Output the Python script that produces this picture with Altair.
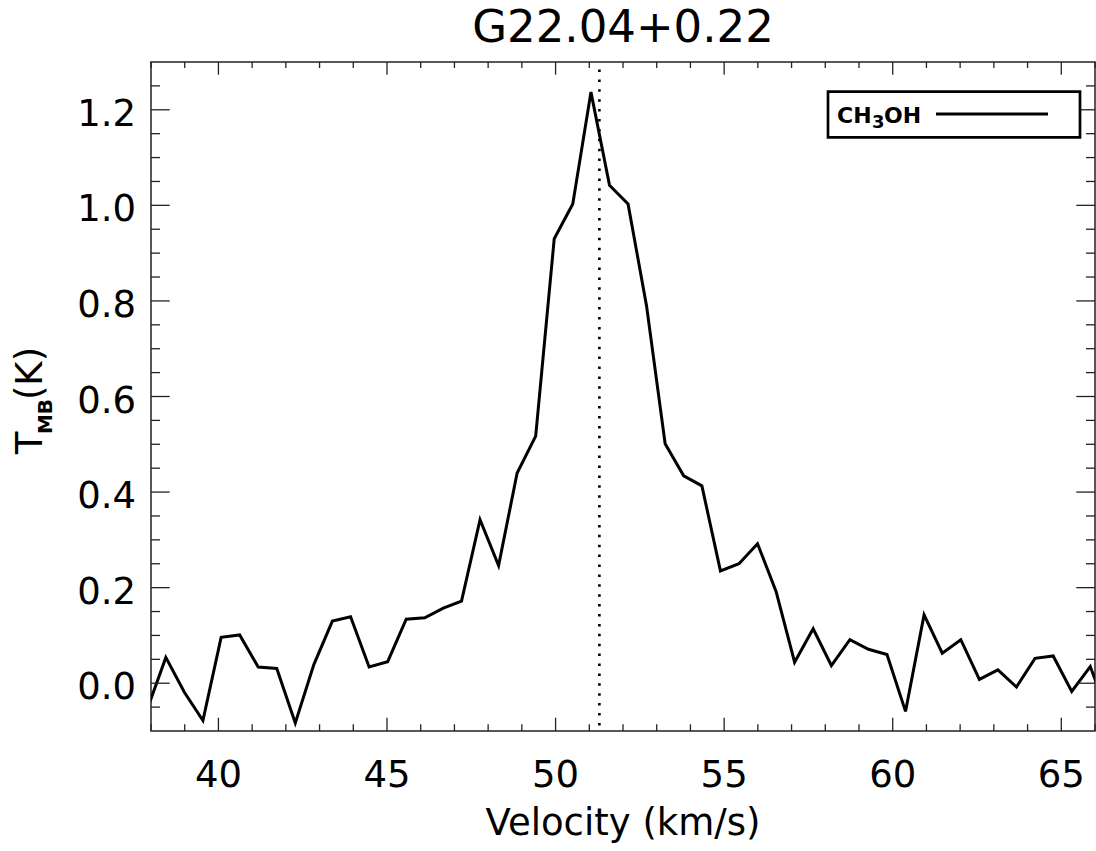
import altair as alt
import pandas as pd

# ---- data ----
velocity = [37.89, 38.44, 38.99, 39.54, 40.08, 40.63, 41.18, 41.73, 42.28, 42.83,
            43.38, 43.92, 44.47, 45.02, 45.57, 46.12, 46.67, 47.21, 47.76, 48.31,
            48.86, 49.41, 49.96, 50.51, 51.05, 51.60, 52.15, 52.70, 53.25, 53.80,
            54.34, 54.89, 55.44, 55.99, 56.54, 57.09, 57.64, 58.18, 58.73, 59.28,
            59.83, 60.38, 60.93, 61.47, 62.02, 62.57, 63.12, 63.67, 64.22, 64.76,
            65.31, 65.86, 66.41]
tmb = [-0.054, 0.054, -0.019, -0.078, 0.096, 0.101, 0.034, 0.031, -0.083, 0.039,
       0.130, 0.139, 0.034, 0.045, 0.134, 0.137, 0.157, 0.172, 0.342, 0.246,
       0.440, 0.517, 0.930, 1.003, 1.237, 1.042, 1.003, 0.789, 0.501, 0.434,
       0.413, 0.235, 0.250, 0.292, 0.192, 0.044, 0.114, 0.037, 0.091, 0.071,
       0.060, -0.059, 0.143, 0.063, 0.091, 0.008, 0.028, -0.008, 0.052, 0.057,
       -0.017, 0.035, -0.070]
v_ref = [51.3]

x_major = [40, 45, 50, 55, 60, 65]
x_major_labels = ["40", "45", "50", "55", "60", "65"]
x_minor = [38, 39, 41, 42, 43, 44, 46, 47, 48, 49, 51, 52, 53, 54,
           56, 57, 58, 59, 61, 62, 63, 64, 66]
y_major = [0.0, 0.2, 0.4, 0.6, 0.8, 1.0, 1.2]
y_major_labels = ["0.0", "0.2", "0.4", "0.6", "0.8", "1.0", "1.2"]
y_minor = [-0.05, 0.05, 0.1, 0.15, 0.25, 0.3, 0.35, 0.45, 0.5, 0.55, 0.65,
           0.7, 0.75, 0.85, 0.9, 0.95, 1.05, 1.1, 1.15, 1.25]

title_text = "G22.04+0.22"
x_title = "Velocity (km/s)"

# ---- layout ----
W, H = 944, 669
FONT = "DejaVu Sans"
FRAME = "#222222"

xscale = alt.Scale(domain=[38, 66], nice=False, zero=False)
yscale = alt.Scale(domain=[-0.1, 1.3], nice=False, zero=False)

df = pd.DataFrame({"v": velocity, "t": tmb})

line = alt.Chart(df).mark_line(color="black", strokeWidth=3, clip=True).encode(
    x=alt.X("v:Q", scale=xscale, axis=None),
    y=alt.Y("t:Q", scale=yscale, axis=None),
)

vline = alt.Chart(pd.DataFrame({"v": v_ref})).mark_rule(
    color="black", strokeWidth=2.6, strokeDash=[2.5, 7.4], strokeDashOffset=2.4,
    strokeCap="butt"
).encode(x=alt.X("v:Q", scale=xscale, axis=None), y=alt.value(0), y2=alt.value(H))


def xticks(vals, side, length):
    d = pd.DataFrame({"v": vals})
    base = alt.Chart(d).mark_rule(color=FRAME, strokeWidth=1.3)
    if side == "bottom":
        return base.encode(x=alt.X("v:Q", scale=xscale, axis=None),
                           y=alt.value(H), y2=alt.value(H - length))
    return base.encode(x=alt.X("v:Q", scale=xscale, axis=None),
                       y=alt.value(0), y2=alt.value(length))


def yticks(vals, side, length):
    d = pd.DataFrame({"t": vals})
    base = alt.Chart(d).mark_rule(color=FRAME, strokeWidth=1.3)
    if side == "left":
        return base.encode(y=alt.Y("t:Q", scale=yscale, axis=None),
                           x=alt.value(0), x2=alt.value(length))
    return base.encode(y=alt.Y("t:Q", scale=yscale, axis=None),
                       x=alt.value(W), x2=alt.value(W - length))


tick_layers = [
    xticks(x_major, "bottom", 13.3), xticks(x_minor, "bottom", 6.7),
    xticks(x_major, "top", 12.7), xticks(x_minor, "top", 6),
    yticks(y_major, "left", 18.7), yticks(y_minor, "left", 9),
    yticks(y_major, "right", 18.7), yticks(y_minor, "right", 9),
]

# tick labels, placed through the scales
xlab = alt.Chart(pd.DataFrame({"v": x_major, "lab": x_major_labels})).mark_text(
    font=FONT, fontSize=37, color="black", align="center", baseline="alphabetic"
).encode(x=alt.X("v:Q", scale=xscale, axis=None), y=alt.value(H + 55.5),
         text="lab:N")
ylab = alt.Chart(pd.DataFrame({"t": y_major, "lab": y_major_labels})).mark_text(
    font=FONT, fontSize=37, color="black", align="right", baseline="alphabetic",
    dy=16
).encode(y=alt.Y("t:Q", scale=yscale, axis=None), x=alt.value(-15),
         text="lab:N")

one = pd.DataFrame({"a": [0]})


def txt(s, x, y, size, angle=0, align="center", weight="normal"):
    return alt.Chart(one).mark_text(
        font=FONT, fontSize=size, fontWeight=weight, color="black",
        angle=angle, align=align, baseline="alphabetic"
    ).encode(x=alt.value(x), y=alt.value(y), text=alt.value(s))


# chart title
title = [txt(title_text, W / 2, -20, 45)]

# y-axis title T_MB(K), rotated
ytitle = [
    txt("T", -109, 381, 37, angle=270),
    txt("MB", -99, 354.5, 20, angle=270, weight="bold"),
    txt("(K)", -109, 311.5, 37, angle=270),
]

# x-axis title
xtitle = [txt(x_title, W / 2, 773, 37)]

# legend box
legend_box = alt.Chart(one).mark_rect(
    fill="white", stroke="black", strokeWidth=2.7
).encode(x=alt.value(677), x2=alt.value(929), y=alt.value(29.7), y2=alt.value(75.3))
legend_line = alt.Chart(one).mark_rule(color="black", strokeWidth=3).encode(
    x=alt.value(785), x2=alt.value(897), y=alt.value(52))
legend_text = [
    txt("CH", 686, 60.7, 22, align="left", weight="bold"),
    txt("3", 721, 66, 18, align="left", weight="bold"),
    txt("OH", 733, 60.7, 22, align="left", weight="bold"),
]

chart = alt.layer(
    line, vline, *tick_layers, xlab, ylab, *title, *ytitle, *xtitle,
    legend_box, legend_line, *legend_text
).properties(
    width=W, height=H,
    autosize=alt.AutoSizeParams(type="none"),
    padding={"left": 151, "top": 62, "right": 1, "bottom": 120},
).configure(
    background="white",
    view=alt.ViewConfig(stroke=FRAME, strokeWidth=1.5, fill="white"),
)

chart.save("out.html", embed_options={"renderer": "svg", "actions": False})
